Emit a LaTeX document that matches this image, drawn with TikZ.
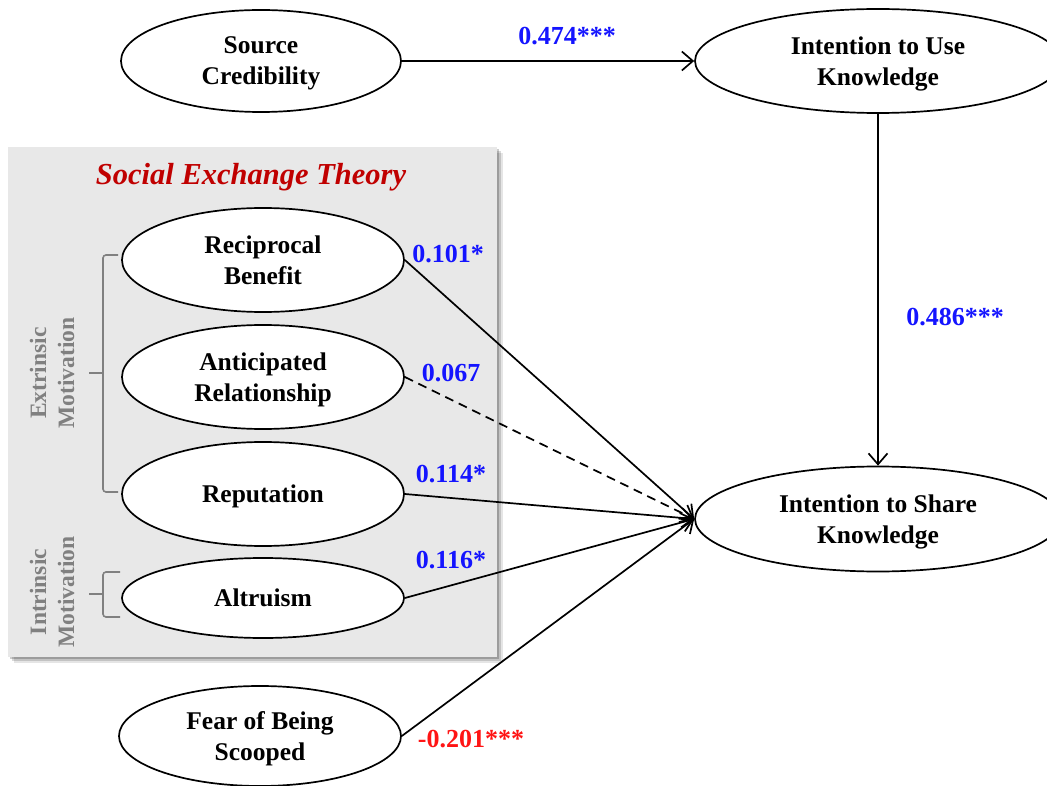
\documentclass[tikz,border=0pt]{standalone}
\usepackage{fontspec}
\setmainfont{Liberation Serif}
\usetikzlibrary{shapes.geometric,arrows.meta}
\definecolor{boxgray}{RGB}{232,232,232}
\definecolor{brkgray}{RGB}{128,128,128}
\definecolor{darkred}{RGB}{192,0,0}
\definecolor{coefblue}{RGB}{20,20,255}
\definecolor{coefred}{RGB}{255,20,20}
\begin{document}
\begin{tikzpicture}[x=1pt,y=-1pt,
  lat/.style={ellipse,draw,line width=1.7pt,fill=white,inner sep=0pt,align=center,text depth=0pt,
    font=\fontsize{25.5}{31}\selectfont\bfseries},
  coef/.style={font=\fontsize{26}{30}\selectfont\bfseries,text=coefblue,inner sep=0pt},
  pth/.style={line width=1.7pt,-{Straight Barb[length=11pt,width=19pt,line width=1.7pt]}},
  brk/.style={draw=brkgray,line width=1.6pt,rounded corners=3pt},
  mot/.style={rotate=90,align=center,text=brkgray,font=\fontsize{23.5}{28}\selectfont\bfseries}]
\useasboundingbox (0,0) rectangle (1047,786);
% gray panel with shadow
\fill[black,opacity=0.10] (8,147) ++(6,6) rectangle (503,663);
\fill[black,opacity=0.15] (8,147) ++(4,4) rectangle (501,661);
\fill[black,opacity=0.20] (8,147) ++(2,2) rectangle (499,659);
\fill[boxgray] (8,147) rectangle (497,657);
\node[font=\fontsize{30.5}{34}\selectfont\bfseries\itshape,text=darkred] (title) at (251,177) {Social Exchange Theory};
% brackets
\draw[brk] (118,255) -- (103,255) -- (103,492) -- (118,492);
\draw[brk] (103,373) -- (89,373);
\draw[brk] (120,572) -- (103,572) -- (103,617) -- (120,617);
\draw[brk] (103,594) -- (89,594);
\node[mot] (extr) at (52,373) {Extrinsic\\Motivation};
\node[mot] (intr) at (52,592) {Intrinsic\\Motivation};
% latent variables
\node[lat,minimum width=280pt,minimum height=102pt] (sc) at (261,61) {Source\\Credibility};
\node[lat,minimum width=366pt,minimum height=104pt] (itu) at (878,61) {Intention to Use\\Knowledge};
\node[lat,minimum width=366pt,minimum height=105pt] (its) at (878,519) {Intention to Share\\Knowledge};
\node[lat,minimum width=282pt,minimum height=104pt] (rb) at (263,260) {Reciprocal\\Benefit};
\node[lat,minimum width=282pt,minimum height=104pt] (ar) at (263,377) {Anticipated\\Relationship};
\node[lat,minimum width=282pt,minimum height=104pt] (rep) at (263,494) {Reputation};
\node[lat,minimum width=282pt,minimum height=80pt] (alt) at (263,598) {Altruism};
\node[lat,minimum width=282pt,minimum height=100pt] (fear) at (260,736) {Fear of Being\\Scooped};
% paths
\draw[pth] (sc.east) -- (itu.west);
\draw[pth] (itu.south) -- (its.north);
\draw[pth] (rb.east) -- (its.west);
\draw[pth,dashed,dash pattern=on 9pt off 6pt] (ar.east) -- (its.west);
\draw[pth] (rep.east) -- (its.west);
\draw[pth] (alt.east) -- (its.west);
\draw[pth] (fear.east) -- (its.west);
% coefficients
\node[coef] (c1) at (567,36) {0.474***};
\node[coef] (c2) at (955,317) {0.486***};
\node[coef] (c3) at (448,254) {0.101*};
\node[coef] (c4) at (451,373) {0.067};
\node[coef] (c5) at (451,474) {0.114*};
\node[coef] (c6) at (451,560) {0.116*};
\node[coef,text=coefred] (c7) at (471,739) {-0.201***};
\end{tikzpicture}
\end{document}
